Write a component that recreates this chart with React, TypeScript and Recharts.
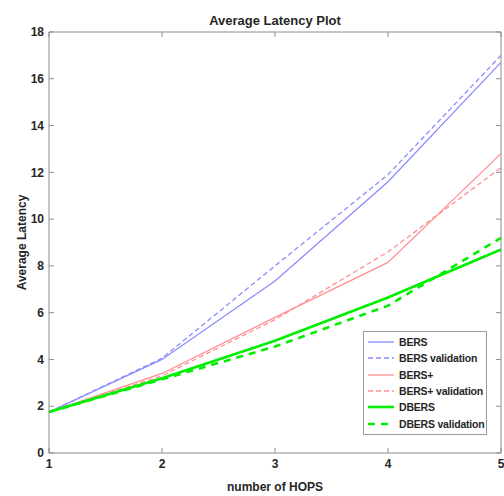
import { LineChart, Line, XAxis, YAxis, Legend } from "recharts"

const hops = [1, 2, 3, 4, 5]
const bers = [1.75, 4.0, 7.35, 11.6, 16.7]
const bersValidation = [1.75, 4.05, 8.0, 11.9, 17.0]
const bersPlus = [1.75, 3.4, 5.8, 8.15, 12.8]
const bersPlusValidation = [1.75, 3.3, 5.7, 8.6, 12.2]
const dbers = [1.75, 3.2, 4.8, 6.65, 8.7]
const dbersValidation = [1.75, 3.15, 4.55, 6.3, 9.2]
const yTicks = [0, 2, 4, 6, 8, 10, 12, 14, 16, 18]

const data = hops.map((h, i) => ({
  hops: h,
  bers: bers[i],
  bersValidation: bersValidation[i],
  bersPlus: bersPlus[i],
  bersPlusValidation: bersPlusValidation[i],
  dbers: dbers[i],
  dbersValidation: dbersValidation[i],
}))

const FONT = "'Liberation Sans', Arial, sans-serif"
const AXIS = "#8c8c8c"
const TEXT = "#262626"

const legendItems = [
  { label: "BERS", color: "#8c8cff", dash: undefined, width: 1.3 },
  { label: "BERS validation", color: "#8c8cff", dash: "5 3", width: 1.3 },
  { label: "BERS+", color: "#ff9090", dash: undefined, width: 1.3 },
  { label: "BERS+ validation", color: "#ff9090", dash: "5 3", width: 1.3 },
  { label: "DBERS", color: "#00ee00", dash: undefined, width: 2.6 },
  { label: "DBERS validation", color: "#00ee00", dash: "7 6", width: 2.6 },
]

function LegendBox() {
  return (
    <div style={{ border: "1px solid #999", background: "#fff", width: 124, padding: "2px 0", boxSizing: "border-box" }}>
      {legendItems.map((it) => (
        <div key={it.label} style={{ display: "flex", alignItems: "center", height: 16.3, whiteSpace: "nowrap" }}>
          <svg width={35} height={10} style={{ flex: "none" }}>
            <line x1={4} x2={30} y1={5} y2={5} stroke={it.color} strokeWidth={it.width} strokeDasharray={it.dash} />
          </svg>
          <span style={{ fontFamily: FONT, fontWeight: "bold", fontSize: 10.5, color: TEXT, letterSpacing: -0.2 }}>{it.label}</span>
        </div>
      ))}
    </div>
  )
}

export default function App() {
  return (
    <div style={{ position: "absolute", left: 0, top: 0, width: 504, height: 496, background: "#fff" }}>
      <LineChart width={504} height={496} data={data} margin={{ top: 31, right: 2, bottom: 0, left: 0 }}>
        <text x={275} y={25} textAnchor="middle" fontFamily={FONT} fontWeight="bold" fontSize={13} fill={TEXT}>
          Average Latency Plot
        </text>
        <XAxis
          dataKey="hops"
          type="number"
          domain={[1, 5]}
          ticks={hops}
          height={43}
          stroke={AXIS}
          tickSize={-5}
          tickMargin={11}
          tick={{ fill: TEXT, fontFamily: FONT, fontWeight: "bold", fontSize: 12 }}
          label={{ value: "number of HOPS", position: "insideBottom", offset: 5, fill: TEXT, fontFamily: FONT, fontWeight: "bold", fontSize: 12 }}
        />
        <XAxis
          xAxisId="top"
          dataKey="hops"
          type="number"
          orientation="top"
          domain={[1, 5]}
          ticks={hops}
          height={1}
          stroke={AXIS}
          tickSize={-5}
          tick={{ fill: "none" }}
          tickFormatter={() => ""}
        />
        <YAxis
          type="number"
          domain={[0, 18]}
          ticks={yTicks}
          width={49}
          stroke={AXIS}
          tickSize={-5}
          tickMargin={10}
          interval={0}
          tick={{ fill: TEXT, fontFamily: FONT, fontWeight: "bold", fontSize: 12 }}
          label={{ value: "Average Latency", angle: -90, position: "insideLeft", offset: 22, style: { textAnchor: "middle" }, fill: TEXT, fontFamily: FONT, fontWeight: "bold", fontSize: 12 }}
        />
        <YAxis
          yAxisId="right"
          orientation="right"
          type="number"
          domain={[0, 18]}
          ticks={yTicks}
          width={1}
          stroke={AXIS}
          tickSize={-5}
          interval={0}
          tick={{ fill: "none" }}
          tickFormatter={() => ""}
        />
        <Legend
          layout="vertical"
          align="center"
          verticalAlign="middle"
          wrapperStyle={{ left: 363, top: 331, width: 126 }}
          content={() => <LegendBox />}
        />
        <Line xAxisId="top" yAxisId="right" dataKey="bers" stroke="none" dot={false} activeDot={false} legendType="none" isAnimationActive={false} />
        <Line dataKey="bers" stroke="#8c8cff" strokeWidth={1.3} dot={false} isAnimationActive={false} />
        <Line dataKey="bersValidation" stroke="#8c8cff" strokeWidth={1.3} strokeDasharray="5 3" dot={false} isAnimationActive={false} />
        <Line dataKey="bersPlus" stroke="#ff9090" strokeWidth={1.3} dot={false} isAnimationActive={false} />
        <Line dataKey="bersPlusValidation" stroke="#ff9090" strokeWidth={1.3} strokeDasharray="5 3" dot={false} isAnimationActive={false} />
        <Line dataKey="dbers" stroke="#00ee00" strokeWidth={2.6} dot={false} isAnimationActive={false} />
        <Line dataKey="dbersValidation" stroke="#00ee00" strokeWidth={2.6} strokeDasharray="7 6" dot={false} isAnimationActive={false} />
      </LineChart>
    </div>
  )
}
